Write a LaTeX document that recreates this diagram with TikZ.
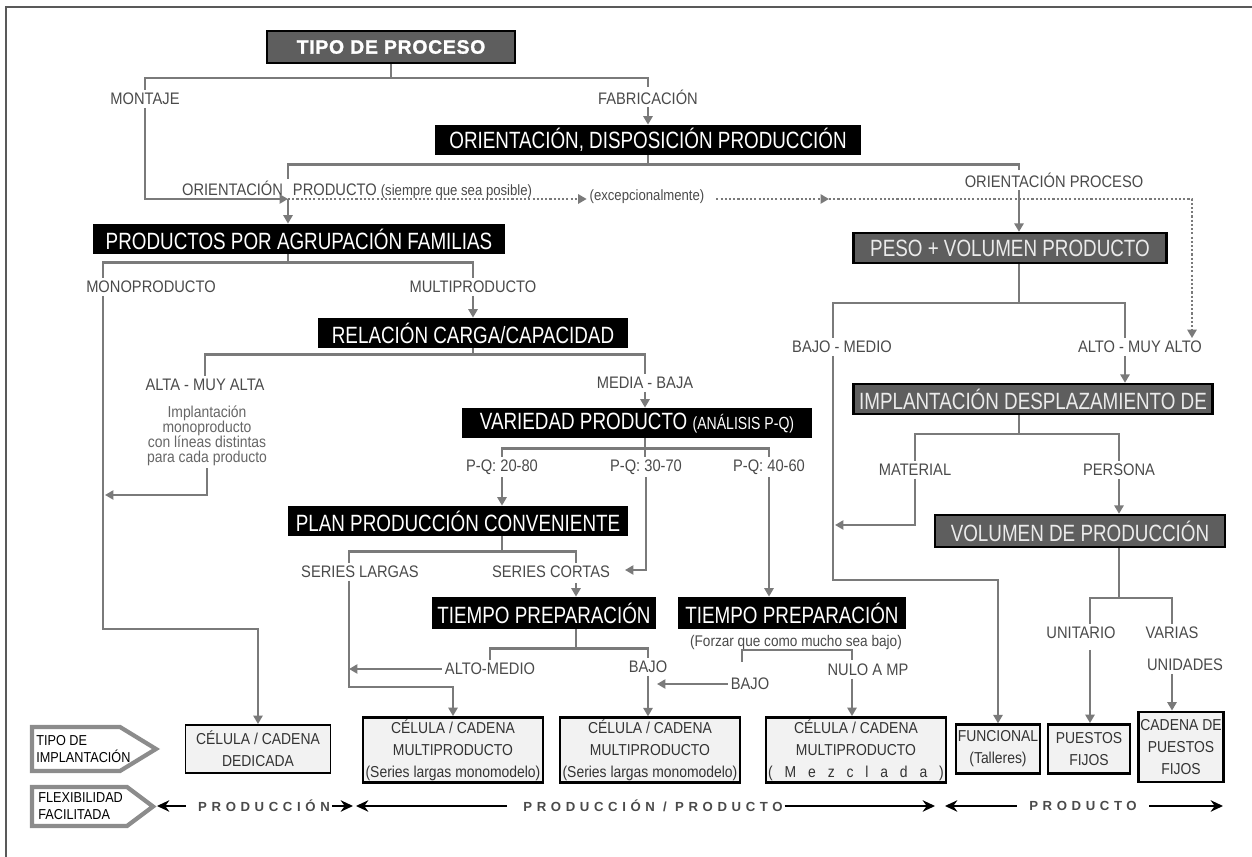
\documentclass[tikz,border=0pt]{standalone}
\usepackage{fontspec}
\setmainfont{Liberation Sans}
\newfontfamily\boxfont{Liberation Sans}[FakeStretch=0.8]
\newfontfamily\lblfont{Liberation Sans}[FakeStretch=0.88]
\newfontfamily\ttlfont{Liberation Sans}[LetterSpace=4,BoldFeatures={FakeBold=1.5}]
\newfontfamily\flexfont{Liberation Sans}[LetterSpace=35]
\usetikzlibrary{arrows.meta,positioning,calc}

\definecolor{linegray}{HTML}{7A7A7A}
\definecolor{txtgray}{HTML}{4A4A4A}
\definecolor{notegray}{HTML}{666666}
\definecolor{boxgray}{HTML}{5E5E5E}
\definecolor{cellfill}{HTML}{F2F2F2}
\definecolor{rimgray}{HTML}{8C8C8C}

\begin{document}
\begin{tikzpicture}[x=0.02cm,y=-0.02cm,>=Stealth]
\tikzstyle{blk}=[fill=black,text=white,font=\boxfont\fontsize{13.4}{14}\selectfont,minimum height=0.6cm,inner sep=1pt]
\tikzstyle{gry}=[blk,fill=boxgray,draw=black,line width=1.3pt,text=white!92!black]
\tikzstyle{ttl}=[gry,font=\ttlfont\bfseries\fontsize{11}{12}\selectfont,text=white]
\tikzstyle{lbl}=[text=txtgray,font=\lblfont\fontsize{9.5}{11}\selectfont,inner sep=1.5pt]
\tikzstyle{note}=[text=notegray,font=\lblfont\fontsize{9}{8.6}\selectfont,align=center,inner sep=1pt]
\tikzstyle{cell}=[draw=black,fill=cellfill,align=center,text=black!80,font=\lblfont\fontsize{9}{12.5}\selectfont,inner sep=1pt]
\tikzstyle{con}=[draw=linegray,line width=1.35pt]
\tikzstyle{arr}=[con,-{Triangle[length=4.8pt,width=5.2pt]}]
\tikzstyle{dotarr}=[arr,dash pattern=on 1.2pt off 1.2pt]
\tikzstyle{rim}=[draw=rimgray,line width=2.4pt,fill=white,line join=miter]
\tikzstyle{tagtxt}=[font=\lblfont\fontsize{8.2}{10}\selectfont,align=left,inner sep=0pt]
\tikzstyle{flexlbl}=[text=txtgray,font=\flexfont\bfseries\fontsize{7.5}{8}\selectfont,inner sep=1pt]
\tikzstyle{blkarr}=[black,line width=1.4pt,-{Stealth[length=7pt,width=6.5pt]}]

\useasboundingbox (0,0) rectangle (1252,857);
\draw[gray!70!black,line width=0.9pt] (6,857) -- (6,7) -- (1252,7);

% --- nodes ---
\node[ttl,minimum width=4.96cm,minimum height=0.64cm] (tipo) at (391,47) {TIPO DE PROCESO};
\node[lbl] (montaje) at (145,99) {MONTAJE};
\node[lbl] (fabric) at (648,97) {FABRICACIÓN};
\node[blk,minimum width=8.54cm] (orient) at (648,140) {ORIENTACIÓN, DISPOSICIÓN PRODUCCIÓN};
\node[lbl,anchor=base east] (opA) at (286,196) {ORIENTACIÓN};
\node[lbl,anchor=base west] (opB) at (290,196) {PRODUCTO {\fontsize{8.5}{10}\selectfont(siempre que sea posible)}};
\node[lbl,font=\lblfont\fontsize{8.5}{10}\selectfont] (excep) at (647,197) {(excepcionalmente)};
\node[lbl] (oproc) at (1054,180) {ORIENTACIÓN PROCESO};

\node[blk,minimum width=8.24cm] (productos) at (299,239) {PRODUCTOS POR AGRUPACIÓN FAMILIAS};
\node[lbl] (mono) at (151,287) {MONOPRODUCTO};
\node[lbl] (multi) at (473,287) {MULTIPRODUCTO};
\node[blk,minimum width=6.22cm] (relacion) at (473,333) {RELACIÓN CARGA/CAPACIDAD};
\node[lbl] (altamuy) at (205,385) {ALTA - MUY ALTA};
\node[note] (nota) at (207,436) {Implantación\\monoproducto\\con líneas distintas\\para cada producto};
\node[lbl] (medbaja) at (645,383) {MEDIA - BAJA};
\node[blk,minimum width=7.02cm] (variedad) at (637,423) {VARIEDAD PRODUCTO {\fontsize{10}{10}\selectfont(ANÁLISIS P-Q)}};
\node[lbl] (pq1) at (502,467) {P-Q: 20-80};
\node[lbl] (pq2) at (646,467) {P-Q: 30-70};
\node[lbl] (pq3) at (769,467) {P-Q: 40-60};
\node[blk,minimum width=6.82cm] (plan) at (458,521) {PLAN PRODUCCIÓN CONVENIENTE};
\node[lbl] (slarg) at (360,572) {SERIES LARGAS};
\node[lbl] (scort) at (551,572) {SERIES CORTAS};
\node[blk,minimum width=4.5cm,minimum height=0.64cm] (tiem1) at (544,613) {TIEMPO PREPARACIÓN};
\node[blk,minimum width=4.58cm,minimum height=0.64cm] (tiem2) at (792,613) {TIEMPO PREPARACIÓN};
\node[lbl,font=\lblfont\fontsize{8.8}{10}\selectfont] (forzar) at (796,643) {(Forzar que como mucho sea bajo)};
\node[lbl] (altmed) at (490,669) {ALTO-MEDIO};
\node[lbl] (bajo1) at (648,667) {BAJO};
\node[lbl] (bajo2) at (750,684) {BAJO};
\node[lbl] (nulo) at (868,670) {NULO A MP};

\node[gry,minimum width=6.26cm] (peso) at (1010,248) {PESO + VOLUMEN PRODUCTO};
\node[lbl] (bajomed) at (842,347) {BAJO - MEDIO};
\node[lbl] (altomuy) at (1140,347) {ALTO - MUY ALTO};
\node[gry,minimum width=7.18cm] (impl) at (1033,399) {IMPLANTACIÓN DESPLAZAMIENTO DE};
\node[lbl] (mat) at (915,470) {MATERIAL};
\node[lbl] (pers) at (1119,470) {PERSONA};
\node[gry,minimum width=5.8cm,minimum height=0.64cm] (vol) at (1080,531) {VOLUMEN DE PRODUCCIÓN};
\node[lbl] (unit) at (1081,633) {UNITARIO};
\node[lbl] (varias) at (1172,633) {VARIAS};
\node[lbl] (unid) at (1185,665) {UNIDADES};

% implantation types
\foreach \nm/\cx/\cy/\w/\h/\lw/\txt in {
  ded/258/749/2.9/0.96/1.1/{CÉLULA / CADENA\\DEDICADA},
  ms1/453/750/3.6/1.3/1.6/{CÉLULA / CADENA\\MULTIPRODUCTO\\(Series largas monomodelo)},
  ms2/650/750/3.6/1.28/1.6/{CÉLULA / CADENA\\MULTIPRODUCTO\\(Series largas monomodelo)},
  mez/856/750/3.6/1.3/1.6/{CÉLULA / CADENA\\MULTIPRODUCTO\\{\addfontfeatures{LetterSpace=75}(Mezclada)}},
  fun/998/749/1.66/0.98/1.3/{FUNCIONAL\\(Talleres)},
  pf/1089/749/1.64/0.98/1.6/{PUESTOS\\FIJOS},
  cpf/1181/747/1.66/1.4/1.6/{CADENA DE\\PUESTOS\\FIJOS}}
  \node[cell,minimum width=\w cm,minimum height=\h cm,line width=\lw pt] (\nm) at (\cx,\cy) {\txt};

% --- junction points ---
\coordinate (jProd) at (288,199);
\coordinate (dPC) at (1019,203);
\coordinate (jExc) at (829,199);
\coordinate (cDot) at (1192,199);
\coordinate (vMono) at (103,629);
\coordinate (jNote) at (105,495);
\coordinate (jSC) at (625,570);
\coordinate (vSL) at (349,687);
\coordinate (vSC) at (576,583);
\coordinate (b8l) at (742,662);
\coordinate (b8r) at (852,660);
\coordinate (jB2) at (657,684);
\coordinate (vBM) at (833,580);
\coordinate (vAM) at (1125,360);
\coordinate (jMat) at (835,525);
\coordinate (vU) at (1090,650);

% --- connectors ---
\draw[con] (tipo.south) -- ++(0,14) coordinate (b1) -| (montaje.north);
\draw[con] (b1) -| (fabric.north);
\draw[arr] (fabric) -- (orient);
\draw[con] (orient.south) -- ++(0,9) coordinate (b2) -| (opA.north -| jProd);
\draw[con] (b2) -| (oproc.north -| dPC);
\draw[arr] (montaje.south) |- (jProd);
\draw[arr] (jProd) -- (jProd |- productos.north);
\draw[dotarr] (jProd) -- (jProd -| excep.west);
\draw[dotarr] (excep.east |- jProd) ++(9,0) -- (jExc);
\draw[dotarr] (jExc) -| (cDot |- altomuy.north);
\draw[arr] (oproc.south -| dPC) -- (dPC |- peso.north);

\draw[con] (productos.south -| jProd) -- ++(0,8) coordinate (b3) -| (mono.north -| vMono);
\draw[con] (b3) -| (multi.north);
\draw[arr] (mono.south -| vMono) -- (vMono) -| (ded.north);
\draw[arr] (multi) -- (relacion);
\draw[con] (relacion.south) -- ++(0,6) coordinate (b4) -| (altamuy.north);
\draw[con] (b4) -| (medbaja.north);
\draw[arr] (nota.south) |- (jNote);
\draw[arr] (medbaja) -- (medbaja |- variedad.north);

\draw[con] (variedad.south -| medbaja) -- ++(0,10) coordinate (b5) -| (pq1.north);
\draw[con] (b5) -| (pq3.north);
\draw[con] (b5) -- (b5 |- pq2.north);
\draw[arr] (pq1) -- (pq1 |- plan.north);
\draw[arr] (pq2.south) |- (jSC);
\draw[arr] (pq3) -- (pq3 |- tiem2.north);
\draw[con] (plan.south -| pq1) -- ++(0,15) coordinate (b6) -| (slarg.north -| vSL);
\draw[con] (b6) -| (scort.north -| vSC);
\draw[arr] (vSC) -- (vSC |- tiem1.north);
\draw[arr] (slarg.south -| vSL) -- (vSL) -| (ms1.north);
\draw[con] (tiem1.south -| vSC) -- ++(0,19) coordinate (b7) -| (altmed.north);
\draw[con] (b7) -| (bajo1.north);
\draw[arr] (altmed.west) -- (altmed.west -| vSL);
\draw[arr] (bajo1) -- (bajo1 |- ms2.north);
\draw[con] (b8l) -- ++(0,-12) -| (b8r);
\draw[arr] (bajo2.west) -- (jB2);
\draw[arr] (nulo.south -| b8r) -- (b8r |- mez.north);

\draw[con] (peso.south -| dPC) -- ++(0,39) coordinate (b9) -| (bajomed.north -| vBM);
\draw[con] (b9) -| (altomuy.north -| vAM);
\draw[arr] (bajomed.south -| vBM) -- (vBM) -| (fun.north);
\draw[arr] (altomuy.south -| vAM) -- (vAM |- impl.north);
\draw[con] (impl.south -| dPC) -- ++(0,19) coordinate (b10) -| (mat.north);
\draw[con] (b10) -| (pers.north);
\draw[arr] (mat.south) |- (jMat);
\draw[arr] (pers) -- (pers |- vol.north);
\draw[con] (vol.south -| pers) -- ++(0,50) coordinate (b11) -| (unit.north -| vU);
\draw[con] (b11) -| (varias.north);
\draw[arr] (vU) -- (vU |- pf.north);
\draw[arr] (unid.south -| varias) -- (varias |- cpf.north);

% --- legend row ---
\draw[rim] (32,727) -- (120,727) -- (156,749) -- (120,771) -- (32,771) -- cycle;
\draw[rim] (32,787) -- (127,787) -- (153,806.5) -- (127,826) -- (32,826) -- cycle;
\node[tagtxt,anchor=west] (tagImpl) at (36,749) {TIPO DE\\IMPLANTACIÓN};
\node[tagtxt,anchor=west] (tagFlex) at (38,806) {FLEXIBILIDAD\\FACILITADA};
\coordinate (tipFlex) at (157,806);
\node[flexlbl] (fx1) at (264,806) {PRODUCCIÓN};
\node[flexlbl] (fx2) at (653,806) {PRODUCCIÓN / PRODUCTO};
\node[flexlbl] (fx3) at (1083,806) {PRODUCTO};
\coordinate (fxA) at (353,806);
\coordinate (fxB) at (356,806);
\coordinate (fxC) at (935,806);
\coordinate (fxD) at (945,806);
\coordinate (fxE) at (1223,806);
\draw[blkarr,shorten <=6pt] (fx1.west) -- (tipFlex);
\draw[blkarr] (fx1.east) -- (fxA);
\draw[blkarr,shorten <=8pt] (fx2.west) -- (fxB);
\draw[blkarr] (fx2.east) -- (fxC);
\draw[blkarr,shorten <=6pt] (fx3.west) -- (fxD);
\draw[blkarr,shorten <=6pt] (fx3.east) -- (fxE);
\end{tikzpicture}
\end{document}
